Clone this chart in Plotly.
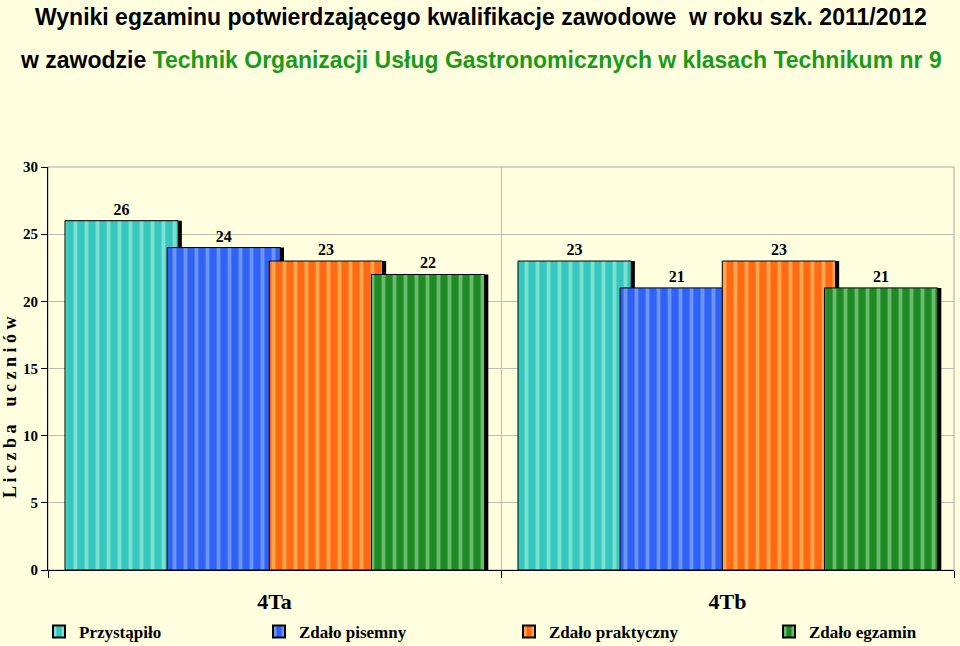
import plotly.graph_objects as go

classes = ["4Ta", "4Tb"]
series_names = ["Przystąpiło", "Zdało pisemny", "Zdało praktyczny", "Zdało egzamin"]
przystapilo = [26, 23]
zdalo_pisemny = [24, 21]
zdalo_praktyczny = [23, 23]
zdalo_egzamin = [22, 21]
y_ticks = [0, 5, 10, 15, 20, 25, 30]

series_values = [przystapilo, zdalo_pisemny, zdalo_praktyczny, zdalo_egzamin]
base_colors = ["#36C8C0", "#2F62F5", "#FF6A12", "#1E8A26"]
light_colors = ["#BDF7DD", "#A9C8FF", "#FFE08A", "#B5EDB0"]
legend_ids = ["legend", "legend2", "legend3", "legend4"]
legend_left_px = [57, 277, 527, 787]

BG = "#FFFFE0"
SERIF = "Liberation Serif, Times New Roman, serif"
SANS = "Liberation Sans, Arial, sans-serif"

PL, PR, PT, PB = 48, 954, 167, 570
PW, PH = PR - PL, PB - PT

fig = go.Figure()
width = 0.25
step = 0.2255
start = -0.4625
for i, (name, vals) in enumerate(zip(series_names, series_values)):
    off = start + i * step
    # shadow
    fig.add_trace(go.Bar(
        x=classes, y=vals, offset=off + 0.008, width=width,
        marker=dict(color="black", line=dict(width=0)),
        showlegend=False, hoverinfo="skip"))
    fig.add_trace(go.Bar(
        x=classes, y=vals, name=name, offset=off, width=width,
        legend=legend_ids[i],
        marker=dict(color=base_colors[i],
                    line=dict(color="black", width=1),
                    pattern=dict(shape="|", fgcolor=light_colors[i], size=11,
                                 solidity=0.35, fillmode="overlay")),
        text=[str(v) for v in vals],
        textposition="outside",
        textfont=dict(family=SERIF, size=16, color="black", weight="bold"),
        cliponaxis=False))

legend_common = dict(orientation="h", yanchor="middle", xanchor="left",
                     y=(PB - 632) / PH,
                     font=dict(family=SERIF, size=17, color="black", weight="bold"),
                     bgcolor="rgba(0,0,0,0)", itemsizing="constant")
legends = {}
for lid, px in zip(legend_ids, legend_left_px):
    legends[lid] = dict(legend_common, x=(px - 18 - PL) / PW)

fig.update_layout(
    width=960, height=646,
    barmode="overlay",
    paper_bgcolor=BG, plot_bgcolor=BG,
    margin=dict(l=PL, r=960 - PR, t=PT, b=646 - PB, autoexpand=False),
    showlegend=True,
    font=dict(family=SERIF, color="black"),
    **legends,
)

fig.update_xaxes(
    type="category", tickson="boundaries", ticks="outside", ticklen=7,
    tickcolor="black", showline=True, linecolor="black", linewidth=1,
    showgrid=True, gridcolor="#BEBEB0", gridwidth=1,
    tickfont=dict(family=SERIF, size=22, color="black", weight="bold"),
    ticklabelstandoff=12,
)
fig.update_yaxes(
    range=[0, 30], tickvals=y_ticks, ticks="outside", ticklen=6,
    tickcolor="black", showline=True, linecolor="black", linewidth=1,
    showgrid=True, gridcolor="#BEBEB0", gridwidth=1, zeroline=False,
    tickfont=dict(family=SERIF, size=15, color="black", weight="bold"),
)

fig.add_shape(type="rect", xref="paper", yref="paper", x0=0, x1=1, y0=0, y1=1,
              line=dict(color="#A8A8A0", width=1), layer="below")

fig.add_annotation(
    text="L i c z b a    u c z n i ó w", textangle=-90,
    xref="paper", yref="paper", x=(10 - PL) / PW, y=(PB - 407) / PH,
    xanchor="center", yanchor="middle",
    showarrow=False, font=dict(family=SERIF, size=18, color="black", weight="bold"))

fig.add_annotation(
    text="Wyniki egzaminu potwierdzającego kwalifikacje zawodowe  w roku szk. 2011/2012",
    xref="paper", yref="paper", x=(481 - PL) / PW, y=(PB - 17) / PH,
    xanchor="center", yanchor="middle",
    showarrow=False, font=dict(family=SANS, size=23, color="black", weight="bold"))
fig.add_annotation(
    text="w zawodzie <span style='color:#1A9A1A'>Technik Organizacji Usług Gastronomicznych w klasach Technikum nr 9</span>",
    xref="paper", yref="paper", x=(481 - PL) / PW, y=(PB - 60) / PH,
    xanchor="center", yanchor="middle",
    showarrow=False, font=dict(family=SANS, size=23, color="black", weight="bold"))

fig.write_html("out.html")
